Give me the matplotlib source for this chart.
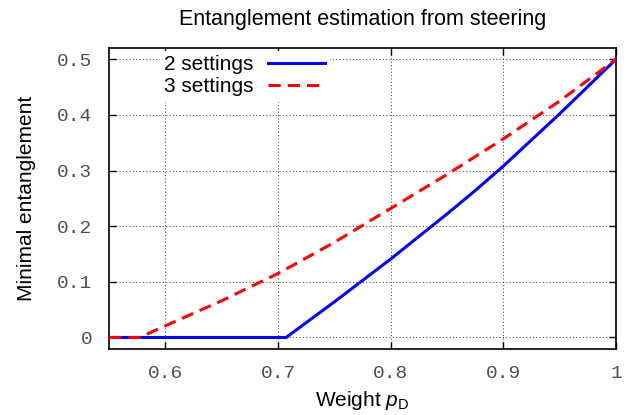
import matplotlib
matplotlib.use("Agg")
import matplotlib.pyplot as plt

plt.rcParams["mathtext.fontset"] = "custom"
plt.rcParams["mathtext.rm"] = "Liberation Sans"
plt.rcParams["mathtext.it"] = "Liberation Sans:italic"

# Data
x2 = [0.55, 0.7071, 0.75, 0.80, 0.85, 0.875, 0.90, 0.95, 1.0]
y2 = [0.0, 0.0, 0.064, 0.141, 0.222, 0.264, 0.308, 0.402, 0.5]

x3 = [0.55, 0.577, 0.60, 0.65, 0.70, 0.75, 0.80, 0.85, 0.90, 0.95, 1.0]
y3 = [0.0, 0.0, 0.021, 0.066, 0.115, 0.171, 0.232, 0.293, 0.357, 0.425, 0.5]

xticks = [0.6, 0.7, 0.8, 0.9, 1.0]
xticklabels = ["0.6", "0.7", "0.8", "0.9", "1"]
yticks = [0, 0.1, 0.2, 0.3, 0.4, 0.5]
yticklabels = ["0", "0.1", "0.2", "0.3", "0.4", "0.5"]

sans = ["Liberation Sans", "DejaVu Sans"]
mono = ["Liberation Mono", "DejaVu Sans Mono"]

fig = plt.figure(figsize=(6.38, 4.15), dpi=100)
ax = fig.add_axes([0.171, 0.160, 0.7945, 0.724])

ax.plot(x2, y2, color="#0000ff", lw=2.2, label="2 settings", zorder=3)
ax.plot(x3, y3, color="#ff0000", lw=2.2, ls=(0, (4, 2.3)), label="3 settings", zorder=3)

ax.set_xlim(0.55, 1.0)
ax.set_ylim(-0.02, 0.52)
ax.set_xticks(xticks)
ax.set_xticklabels(xticklabels, family=mono, fontsize=14, color="#505050")
ax.set_yticks(yticks)
ax.set_yticklabels(yticklabels, family=mono, fontsize=14, color="#505050")
ax.tick_params(direction="in", top=True, right=True, length=5, width=1)
ax.tick_params(axis="y", pad=12)
ax.tick_params(axis="x", pad=12)
ax.grid(True, ls=(0, (1, 2)), color="#555555", lw=0.8)
for s in ax.spines.values():
    s.set_linewidth(1.2)

ax.set_title("Entanglement estimation from steering", family=sans, fontsize=15.5, pad=17)
ax.set_xlabel(r"Weight $p_{\mathrm{D}}$", family=sans, fontsize=15, labelpad=5)
ax.set_ylabel("Minimal entanglement", family=sans, fontsize=15, labelpad=15)

leg = ax.legend(loc="upper left", bbox_to_anchor=(0.08, 1.025), markerfirst=False,
                frameon=True, framealpha=1, edgecolor="white", fancybox=False,
                prop={"family": sans, "size": 15}, handlelength=2.7,
                labelspacing=0.15, borderpad=0.2, handletextpad=0.7)

fig.savefig("out.png", dpi=100)
